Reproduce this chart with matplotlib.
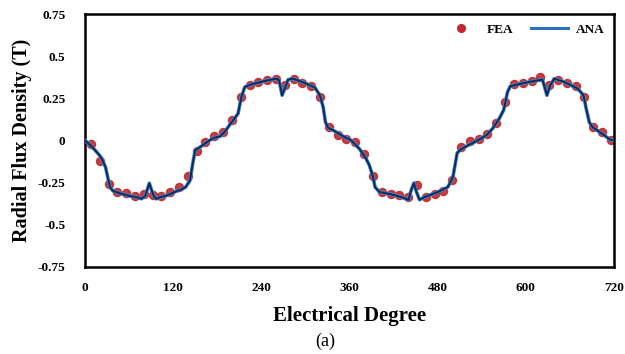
import numpy as np
import matplotlib
matplotlib.use("Agg")
import matplotlib.pyplot as plt
import matplotlib.patheffects as pe
from matplotlib.lines import Line2D

plt.rcParams['font.family'] = ['Liberation Serif', 'DejaVu Serif']

# FEA samples (every 12 electrical degrees)
fea_x = np.arange(8, 720, 12)
fea_y = [-0.024, -0.125, -0.258, -0.307, -0.315, -0.332, -0.321, -0.322, -0.330, -0.307,
         -0.280, -0.212, -0.064, -0.010, 0.025, 0.047, 0.119, 0.258, 0.330, 0.345,
         0.360, 0.366, 0.327, 0.363, 0.342, 0.324, 0.260, 0.081, 0.033, 0.010,
         -0.010, -0.079, -0.214, -0.307, -0.317, -0.327, -0.337, -0.268, -0.337, -0.317,
         -0.298, -0.234, -0.040, -0.006, 0.010, 0.040, 0.103, 0.228, 0.333, 0.341,
         0.353, 0.377, 0.330, 0.361, 0.341, 0.321, 0.258, 0.079, 0.050, 0.004]

# analytical curve
ana_x = [0, 10, 14, 20, 23, 28, 31, 34, 38, 41, 50, 60, 70, 77, 82, 87.6, 91, 94, 97, 102,
         110, 122, 132, 137, 143, 147, 150, 155, 160, 168, 176, 184,
         190, 201.6, 208.4, 213, 217.6, 226.6, 244.8, 260.7, 264.3, 268.4, 272, 276.6, 283.4,
         299.3, 313, 319.8, 324.3, 327.4, 331, 337.9, 349.2, 362.4,
         373.7, 382.8, 387.3, 392, 395, 401, 417, 430.5, 440.5, 444, 447.8, 451.4, 455.5,
         462.3, 480.5, 494, 501, 506.8, 511.3, 521.4, 535, 546.3,
         555, 564, 570, 575.4, 579, 593.6, 611.7, 623, 629, 633.5, 639, 652.6, 670.7,
         678.9, 682, 686.6, 691, 702.6, 715.3, 720]
ana_y = [0.0, -0.04, -0.06, -0.09, -0.11, -0.16, -0.22, -0.278, -0.30, -0.305, -0.318, -0.33,
         -0.337, -0.347, -0.33, -0.255, -0.30, -0.335, -0.348, -0.338,
         -0.33, -0.307, -0.29, -0.278, -0.238, -0.13, -0.06, -0.045, -0.03, -0.004, 0.015, 0.024,
         0.05, 0.119, 0.159, 0.258, 0.317, 0.333, 0.353, 0.367, 0.357, 0.268, 0.308, 0.361, 0.367,
         0.341, 0.314, 0.268, 0.198, 0.109, 0.075, 0.06, 0.03, 0.0,
         -0.05, -0.109, -0.149, -0.214, -0.278, -0.307, -0.321, -0.337, -0.353, -0.298, -0.254,
         -0.307, -0.353,
         -0.337, -0.307, -0.278, -0.218, -0.075, -0.055, -0.03, 0.0, 0.03,
         0.07, 0.129, 0.179, 0.288, 0.321, 0.337, 0.353, 0.361, 0.268, 0.327, 0.367, 0.347, 0.308,
         0.268, 0.198, 0.109, 0.079, 0.044, 0.004, 0.0]

xticks = [0, 120, 240, 360, 480, 600, 720]
yticks = [-0.75, -0.5, -0.25, 0, 0.25, 0.5, 0.75]
ylabels = ['-0.75', '-0.5', '-0.25', '0', '0.25', '0.5', '0.75']

fig = plt.figure(figsize=(6.25, 3.54), dpi=100)
ax = fig.add_axes([0.136, 0.247, 0.846, 0.713])

ax.plot(fea_x, fea_y, 'o', color='#c0282a', ms=5.8, mec='#c0282a', alpha=0.9, zorder=2)
ax.plot(ana_x, ana_y, '-', color='#0e2858', lw=1.4, zorder=3,
        path_effects=[pe.Stroke(linewidth=2.6, foreground='#3f86cc'), pe.Normal()])

ax.set_xlim(0, 720)
ax.set_ylim(-0.75, 0.75)
ax.set_xticks(xticks)
ax.set_yticks(yticks)
ax.set_yticklabels(ylabels)
ax.tick_params(length=0, labelsize=9.5)
ax.tick_params(axis='y', pad=14)
ax.tick_params(axis='x', pad=11)
for lab in ax.get_xticklabels() + ax.get_yticklabels():
    lab.set_fontweight('bold')
for s in ax.spines.values():
    s.set_linewidth(1.8)

ax.set_xlabel('Electrical Degree', fontsize=15, fontweight='bold', labelpad=9)
ax.set_ylabel('Radial Flux Density (T)', fontsize=14.5, fontweight='bold', labelpad=4)
fig.text(0.52, 0.035, '(a)', fontsize=13, ha='center', va='center')

handles = [Line2D([], [], ls='none', marker='o', color='#c0282a', ms=5.5),
           Line2D([], [], color='#2a72c0', lw=2.2)]
ax.legend(handles, ['FEA', 'ANA'], loc='upper right', ncol=2, frameon=False,
          prop={'weight': 'bold', 'size': 9.5}, handlelength=2.8, columnspacing=1.3,
          handletextpad=0.6, borderaxespad=0.3)

fig.savefig('out.png', dpi=100)
